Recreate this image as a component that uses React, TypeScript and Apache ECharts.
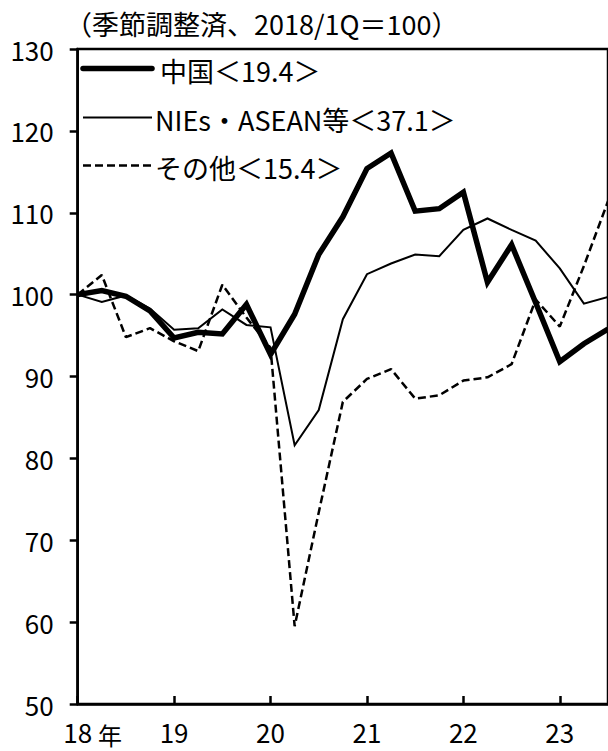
import React, { useEffect, useRef } from 'react';
import * as echarts from 'echarts';

const categories = [
  '18/1Q', '18/2Q', '18/3Q', '18/4Q',
  '19/1Q', '19/2Q', '19/3Q', '19/4Q',
  '20/1Q', '20/2Q', '20/3Q', '20/4Q',
  '21/1Q', '21/2Q', '21/3Q', '21/4Q',
  '22/1Q', '22/2Q', '22/3Q', '22/4Q',
  '23/1Q', '23/2Q', '23/3Q',
];
const yearLabels = ['18', '19', '20', '21', '22', '23'];

const chinaValues = [
  100, 100.5, 99.8, 98.0, 94.7, 95.4, 95.2, 98.8, 92.7, 97.6, 104.9, 109.5,
  115.4, 117.3, 110.2, 110.5, 112.5, 101.5, 106.1, 99.0, 91.8, 94.0, 95.8,
];
const niesValues = [
  100, 99.1, 99.9, 98.3, 95.7, 95.9, 98.2, 96.3, 96.0, 81.6, 85.9, 97.0,
  102.5, 103.8, 104.9, 104.7, 107.9, 109.3, 107.9, 106.6, 103.2, 98.9, 99.7,
];
const othersValues = [
  100, 102.4, 94.8, 95.9, 94.3, 93.1, 101.2, 97.2, 93.5, 59.5, 73.4, 86.9,
  89.7, 90.9, 87.3, 87.7, 89.5, 89.9, 91.5, 99.4, 96.1, 103.5, 111.4,
];

const seriesNames = ['中国＜19.4＞', 'NIEs・ASEAN等＜37.1＞', 'その他＜15.4＞'];
const titleText = '（季節調整済、2018/1Q＝100）';
const yearSuffix = '年';

const FONT = '"Noto Sans CJK JP", "Noto Sans CJK SC", sans-serif';

const lineWidths = [5.5, 2, 2.5];
const lineDashes: (number[] | null)[] = [null, null, [8, 4]];

export default function App() {
  const ref = useRef<HTMLDivElement>(null);
  useEffect(() => {
    if (!ref.current) return;
    const chart = echarts.init(ref.current, null, { renderer: 'svg' });

    const legendRowsY = [68.5, 117.5, 165.5];
    const legendTextX = [160, 155, 155];
    const legendGraphics: any[] = [];
    seriesNames.forEach((name, i) => {
      legendGraphics.push({
        type: 'line',
        shape: { x1: 83, y1: legendRowsY[i], x2: 152, y2: legendRowsY[i] },
        style: {
          stroke: '#000',
          lineWidth: lineWidths[i],
          lineDash: lineDashes[i] || undefined,
          lineCap: i === 0 ? 'round' : 'butt',
        },
        z: 10,
      });
      legendGraphics.push({
        type: 'text',
        x: legendTextX[i],
        y: legendRowsY[i] + 2,
        style: {
          text: name,
          font: `27px ${FONT}`,
          fill: '#000',
          verticalAlign: 'middle',
          align: 'left',
        },
        z: 10,
      });
    });

    chart.setOption({
      animation: false,
      backgroundColor: '#fff',
      textStyle: { fontFamily: FONT, color: '#000' },
      grid: {
        left: 77.7,
        top: 49,
        right: -7.6,
        bottom: 47,
        show: true,
        borderColor: '#000',
        borderWidth: 2.5,
        backgroundColor: 'transparent',
        containLabel: false,
      },
      xAxis: {
        type: 'category',
        data: categories,
        boundaryGap: false,
        axisLine: { show: true, lineStyle: { color: '#000', width: 2.5 } },
        axisTick: {
          show: true,
          inside: true,
          length: 8,
          interval: (i: number) => i % 4 === 0,
          lineStyle: { color: '#000', width: 2.5 },
        },
        axisLabel: {
          interval: (i: number) => i % 4 === 0,
          formatter: (_v: string, i: number) => yearLabels[Math.floor(i / 4)] ?? '',
          fontFamily: FONT,
          fontSize: 26,
          margin: 14,
          color: '#000',
        },
        splitLine: { show: false },
      },
      yAxis: {
        type: 'value',
        min: 50,
        max: 130,
        interval: 10,
        axisLine: { show: true, lineStyle: { color: '#000', width: 2.5 } },
        axisTick: { show: true, inside: false, length: 8, lineStyle: { color: '#000', width: 2.5 } },
        axisLabel: { fontFamily: FONT, fontSize: 26, margin: 24, color: '#000' },
        splitLine: { show: false },
      },
      graphic: [
        {
          type: 'text',
          left: 65,
          top: 10,
          style: { text: titleText, font: `27px ${FONT}`, fill: '#000' },
        },
        {
          type: 'text',
          left: 98,
          top: 722,
          style: { text: yearSuffix, font: `24px ${FONT}`, fill: '#000' },
        },
        ...legendGraphics,
      ],
      series: [
        {
          name: seriesNames[0],
          type: 'line',
          data: chinaValues,
          symbol: 'none',
          z: 5,
          lineStyle: { color: '#000', width: lineWidths[0], join: 'miter' },
        },
        {
          name: seriesNames[1],
          type: 'line',
          data: niesValues,
          symbol: 'none',
          z: 4,
          lineStyle: { color: '#000', width: lineWidths[1], join: 'miter' },
        },
        {
          name: seriesNames[2],
          type: 'line',
          data: othersValues,
          symbol: 'none',
          z: 3,
          lineStyle: { color: '#000', width: lineWidths[2], type: lineDashes[2] },
        },
      ],
    });
    return () => chart.dispose();
  }, []);
  return (
    <div
      ref={ref}
      style={{ position: 'absolute', left: 0, top: 0, width: 608, height: 751 }}
    />
  );
}
